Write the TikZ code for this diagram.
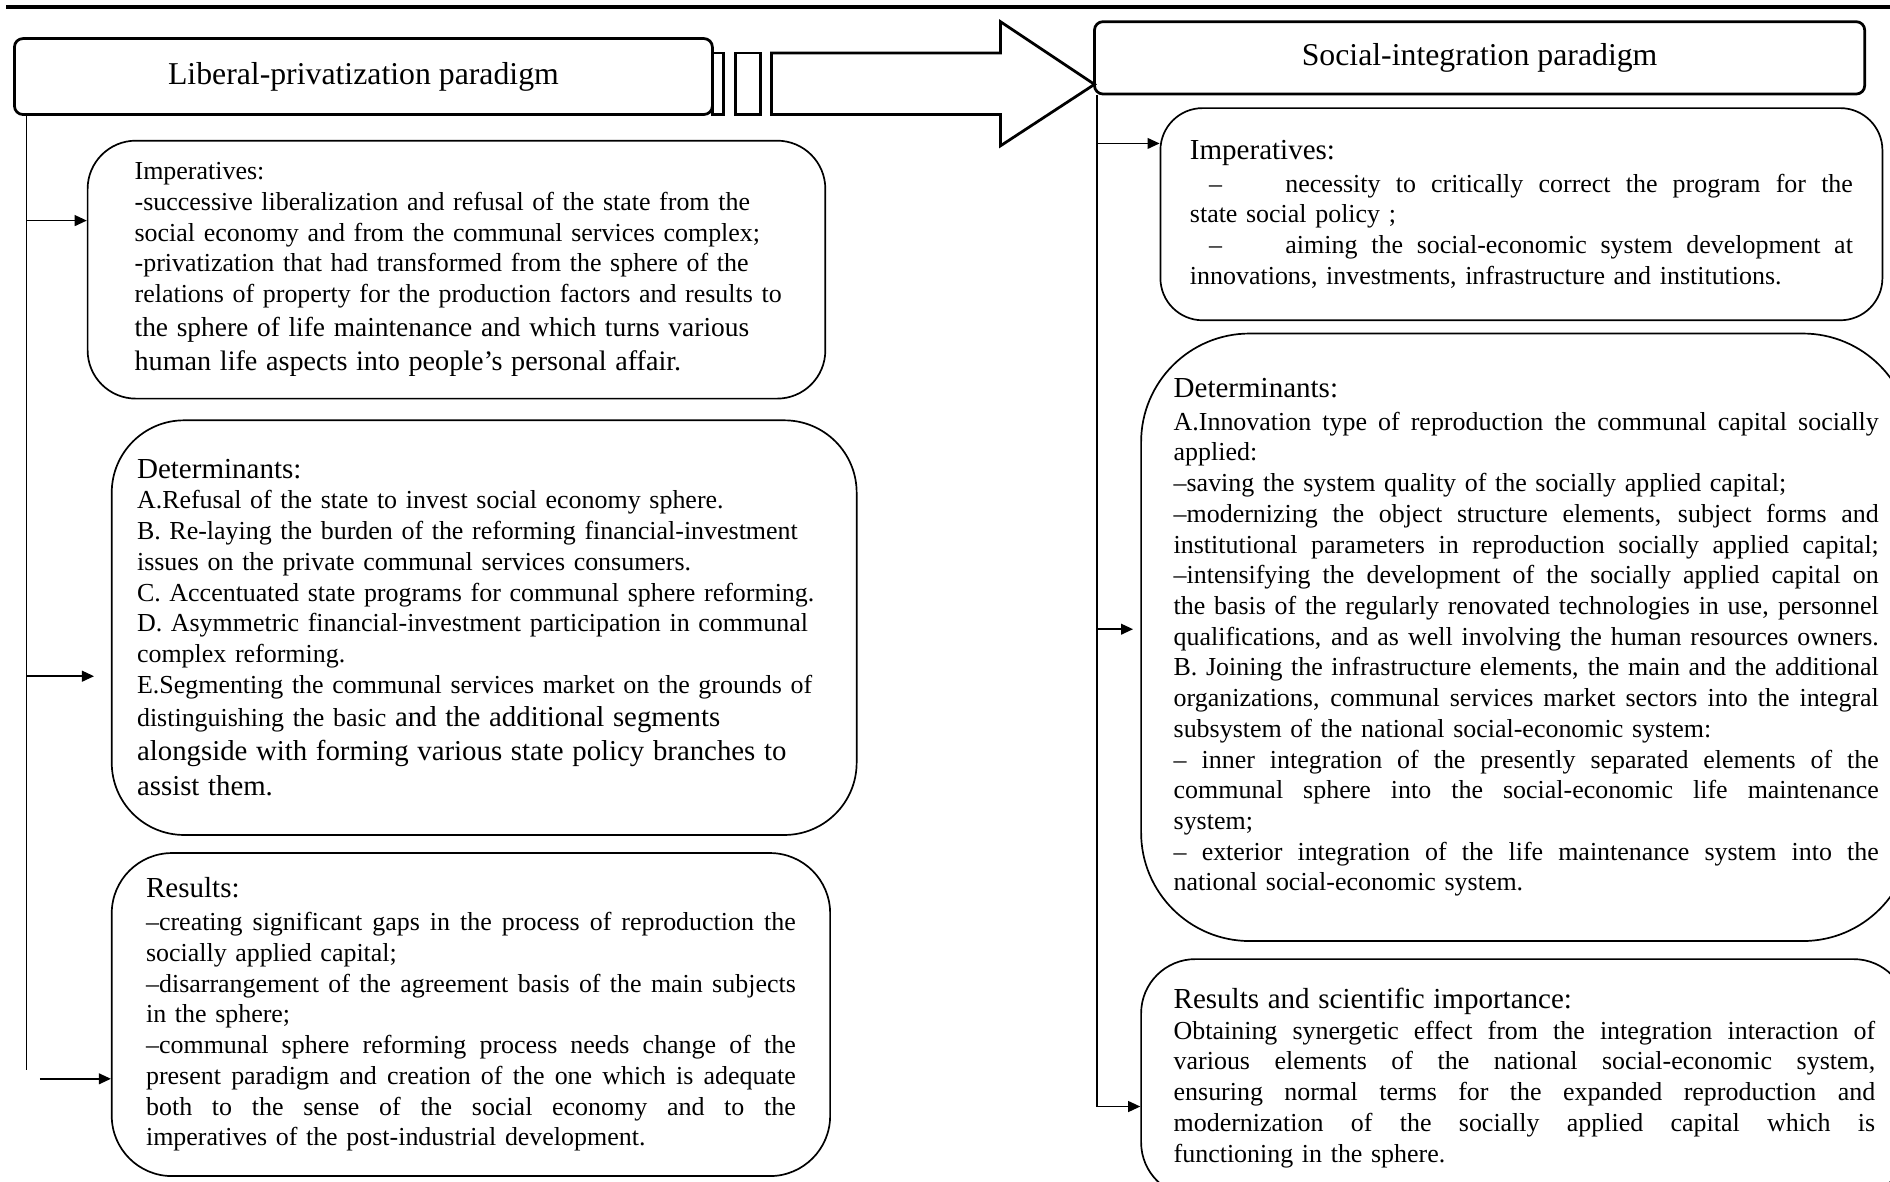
\documentclass[tikz,border=0pt]{standalone}
\usepackage{fontspec}
\setmainfont{Liberation Serif}
\usetikzlibrary{arrows.meta,positioning,calc}
\newcommand{\jline}[1]{\makebox[\hsize][s]{\spaceskip=0pt\xspaceskip=0pt #1}}
\newcommand{\sz}[2]{{\fontsize{#1}{14.5}\selectfont #2}}
\tikzset{
  ttl/.style={rectangle, rounded corners=4pt, draw=black, line width=1.3pt,
    align=center, font=\fontsize{15}{18}\selectfont},
  infobox/.style={rectangle, draw=black, line width=0.8pt, align=left,
    anchor=north west, font=\fontsize{12.25}{14.5}\selectfont},
  flow/.style={-{Triangle[length=2mm, width=1.8mm]}, line width=0.7pt},
  trunk/.style={line width=0.7pt},
}

\begin{document}
\begin{tikzpicture}
  \useasboundingbox (0,0) rectangle (31.36,-19.6);
  \draw[line width=1.9pt] (0.1,-0.11) -- (31.36,-0.11);

  % the two paradigms
  \node[ttl, minimum width=11.58cm, minimum height=1.26cm] (ttlL) at (6.03,-1.27)
    {Liberal-privatization paradigm};
  \node[ttl, minimum width=12.78cm, minimum height=1.2cm] (ttlR) at (24.55,-0.96)
    {Social-integration paradigm};
  \draw[line width=1.3pt] (11.82,-0.88) rectangle (12.0,-1.9);
  \draw[line width=1.3pt] (12.2,-0.88) rectangle (12.62,-1.9);
  \draw[line width=1.3pt, line join=miter] (12.8,-0.88) -- (16.6,-0.88) -- (16.6,-0.36)
    -- (18.16,-1.4) -- (16.6,-2.42) -- (16.6,-1.9) -- (12.8,-1.9) -- cycle;

  % left column
  \node[infobox, text width=10.8cm, inner xsep=0.72cm, minimum height=4.28cm,
    rounded corners=0.8cm] (impL) at (1.44,-2.32) {%
    \hspace*{0.06cm}Imperatives:\\
    \hspace*{0.06cm}-successive liberalization and refusal of the state from the\\
    \hspace*{0.06cm}social economy and from the communal services complex;\\
    \hspace*{0.06cm}-privatization that had transformed from the sphere of the\\
    \hspace*{0.06cm}relations of property for the production factors and results to\\[1.6pt]
    \hspace*{0.06cm}\sz{12.95}{the sphere of life maintenance and which turns various}\\[1.6pt]
    \hspace*{0.06cm}\sz{13.3}{human life aspects into people’s personal affair.}};
  \node[infobox, text width=11.52cm, inner xsep=0.42cm, minimum height=6.88cm,
    rounded corners=1.2cm] (detL) at (1.84,-6.96) {%
    \sz{13.7}{Determinants:}\\
    A.Refusal of the state to invest social economy sphere.\\
    B. Re-laying the burden of the reforming financial-investment\\
    issues on the private communal services consumers.\\
    C. Accentuated state programs for communal sphere reforming.\\
    D. Asymmetric financial-investment participation in communal\\
    complex reforming.\\
    E.Segmenting the communal services market on the grounds of\\[1pt]
    distinguishing the basic \sz{13.6}{and the additional segments}\\[2pt]
    \sz{13.6}{alongside with forming various state policy branches to}\\[2pt]
    \sz{13.6}{assist them.}\par\vspace*{0.28cm}};
  \node[infobox, text width=10.78cm, inner xsep=0.57cm, minimum height=5.36cm,
    rounded corners=1.0cm] (resL) at (1.84,-14.14) {%
    \sz{13.7}{Results:}\\[1pt]
    \jline{–creating significant gaps in the process of reproduction the}\\
    socially applied capital;\\
    \jline{–disarrangement of the agreement basis of the main subjects}\\
    in the sphere;\\
    \jline{–communal sphere reforming process needs change of the}\\
    \jline{present paradigm and creation of the one which is adequate}\\
    \jline{both to the sense of the social economy and to the}\\
    imperatives of the post-industrial development.};

  \coordinate (tkL) at (0.44,-17.76);
  \draw[trunk] (ttlL.south -| tkL) -- (tkL);
  \coordinate (pL1) at (0.44,-3.66);
  \coordinate (pL2) at (0.44,-11.22);
  \coordinate (pL3) at (0.66,-17.9);
  \draw[flow] (pL1) -- (pL1 -| impL.west);
  \draw[flow, shorten >=0.28cm] (pL2) -- (pL2 -| detL.west);
  \draw[flow] (pL3) -- (pL3 -| resL.west);

  % right column
  \node[infobox, text width=11.0cm, inner xsep=0.49cm, minimum height=3.52cm,
    rounded corners=0.7cm] (impR) at (19.24,-1.78) {%
    \sz{13.7}{Imperatives:}\\[1pt]
    \jline{\hspace*{0.32cm}–\hspace*{1.05cm}necessity to critically correct the program for the}\\
    state social policy ;\\
    \jline{\hspace*{0.32cm}–\hspace*{1.05cm}aiming the social-economic system development at}\\
    innovations, investments, infrastructure and institutions.\par\vspace*{0.2cm}};
  \node[infobox, text width=11.7cm, inner xsep=0.54cm, minimum height=10.08cm,
    rounded corners=1.8cm] (detR) at (18.92,-5.52) {%
    \sz{13.7}{Determinants:}\\[1pt]
    \jline{A.Innovation type of reproduction the communal capital socially}\\
    applied:\\
    –saving the system quality of the socially applied capital;\\
    \jline{–modernizing the object structure elements, subject forms and}\\
    \jline{institutional parameters in reproduction socially applied capital;}\\
    \jline{–intensifying the development of the socially applied capital on}\\
    \jline{the basis of the regularly renovated technologies in use, personnel}\\
    \jline{qualifications, and as well involving the human resources owners.}\\
    \jline{B. Joining the infrastructure elements, the main and the additional}\\
    \jline{organizations, communal services market sectors into the integral}\\
    subsystem of the national social-economic system:\\
    \jline{– inner integration of the presently separated elements of the}\\
    \jline{communal sphere into the social-economic life maintenance}\\
    system;\\
    \jline{– exterior integration of the life maintenance system into the}\\
    national social-economic system.};
  \node[infobox, text width=11.64cm, inner xsep=0.54cm, minimum height=3.94cm,
    rounded corners=0.9cm] (resR) at (18.92,-15.9) {%
    \sz{13.7}{Results and scientific importance:}\\
    \jline{Obtaining synergetic effect from the integration interaction of}\\
    \jline{various elements of the national social-economic system,}\\
    \jline{ensuring normal terms for the expanded reproduction and}\\
    \jline{modernization of the socially applied capital which is}\\
    functioning in the sphere.};

  \coordinate (tkR) at (18.2,-18.36);
  \draw[trunk] (ttlR.south -| tkR) -- (tkR);
  \coordinate (pR1) at (18.2,-2.38);
  \coordinate (pR2) at (18.2,-10.44);
  \draw[flow] (pR1) -- (pR1 -| impR.west);
  \draw[flow, shorten >=0.12cm] (pR2) -- (pR2 -| detR.west);
  \draw[flow] (tkR) -- (tkR -| resR.west);
\end{tikzpicture}
\end{document}
